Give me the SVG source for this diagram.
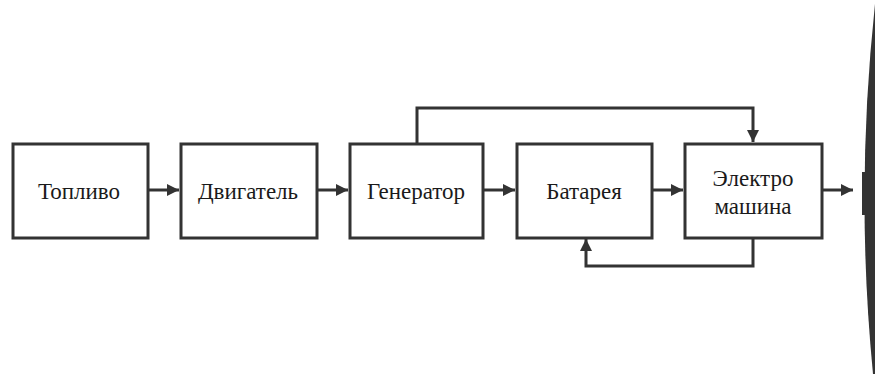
<svg xmlns="http://www.w3.org/2000/svg" width="875" height="374" viewBox="0 0 875 374">
<style>
.box{fill:#fff;stroke:#333;stroke-width:3}
.lbl{font-family:"Liberation Serif","Times New Roman",serif;font-size:23px;fill:#1a1a1a;text-anchor:middle}
.con{fill:none;stroke:#333;stroke-width:3;marker-end:url(#ah)}
</style>
<defs>
<marker id="ah" viewBox="0 0 10 10" refX="10" refY="5" markerWidth="4" markerHeight="4" markerUnits="strokeWidth" orient="auto">
<path d="M0,0 L10,5 L0,10 Z" fill="#333"/>
</marker>
</defs>
<rect width="875" height="374" fill="#fff"/>
<g id="wheel">
<path d="M875,4 Q855,190 873,374 L875,374 Z" fill="#333"/>
<rect x="862" y="172" width="6" height="43" fill="#333"/>
</g>
<g id="connectors">
<path class="con" d="M148,190 H179"/>
<path class="con" d="M317,190 H348"/>
<path class="con" d="M483,190 H515"/>
<path class="con" d="M652,190 H683"/>
<path class="con" d="M822,190 H853"/>
<path class="con" d="M417,143 V108 H753 V142"/>
<path class="con" d="M753,238 V266 H586 V239"/>
</g>
<g id="toplivo"><rect class="box" x="13" y="144" width="135" height="94"/><text class="lbl" x="79" y="199">Топливо</text></g>
<g id="dvigatel"><rect class="box" x="181" y="144" width="136" height="94"/><text class="lbl" x="248" y="199">Двигатель</text></g>
<g id="generator"><rect class="box" x="350" y="144" width="133" height="94"/><text class="lbl" x="416" y="199">Генератор</text></g>
<g id="battery"><rect class="box" x="517" y="144" width="135" height="94"/><text class="lbl" x="584" y="199">Батарея</text></g>
<g id="electro"><rect class="box" x="685" y="144" width="137" height="94"/><text class="lbl" x="753" y="186">Электро</text><text class="lbl" x="753" y="214">машина</text></g>
</svg>
